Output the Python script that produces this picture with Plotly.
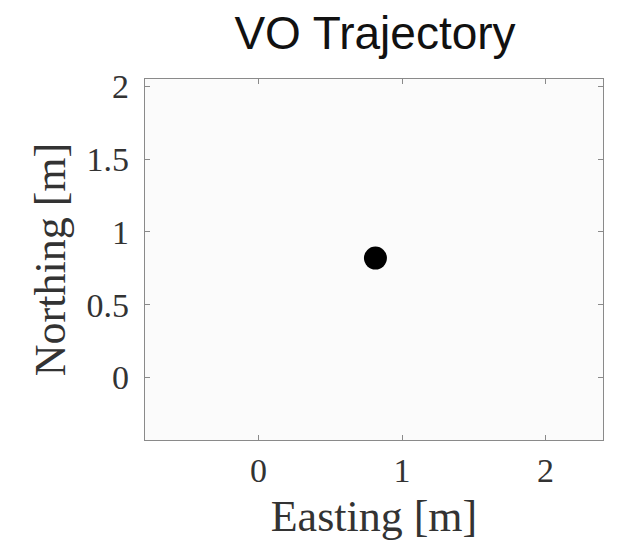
import plotly.graph_objects as go

# Data
easting = [0.815]
northing = [0.82]
x_ticks = [0, 1, 2]
y_ticks = [0, 0.5, 1, 1.5, 2]
y_tick_labels = ["0", "0.5", "1", "1.5", "2"]
x_range = [-0.79, 2.40]
y_range = [-0.43, 2.05]

serif = "Liberation Serif, DejaVu Serif, serif"

fig = go.Figure()
fig.add_trace(go.Scatter(
    x=easting, y=northing, mode="markers",
    marker=dict(size=23, color="black"),
    showlegend=False, hoverinfo="skip",
))

axis_common = dict(
    showgrid=False, zeroline=False, showline=True, mirror="ticks",
    linecolor="#8a8a8a", linewidth=1.2,
    ticks="inside", ticklen=5, tickcolor="#8a8a8a", tickwidth=1,
    tickfont=dict(family=serif, size=34, color="#333333"),
)

fig.update_layout(
    width=619, height=544, autosize=False,
    margin=dict(l=137, r=24, t=71, b=112),
    paper_bgcolor="white", plot_bgcolor="#fbfbfb",
    title=dict(text="VO Trajectory", x=367/619, xanchor="center",
               y=1 - 9/544, yanchor="top", yref="container", pad=dict(t=0, b=0),
               font=dict(family="Liberation Sans, Arial, sans-serif", size=46, color="#111111")),
    xaxis=dict(range=x_range, tickvals=x_ticks, ticktext=[str(v) for v in x_ticks],
               ticklabelstandoff=0,
               title=dict(text="Easting [m]", font=dict(family=serif, size=44, color="#333333"), standoff=12),
               **axis_common),
    yaxis=dict(range=y_range, tickvals=y_ticks, ticktext=y_tick_labels,
               ticklabelstandoff=8,
               title=dict(text="Northing [m]", font=dict(family=serif, size=44, color="#333333"), standoff=7),
               **axis_common),
)

fig.write_html("out.html")
